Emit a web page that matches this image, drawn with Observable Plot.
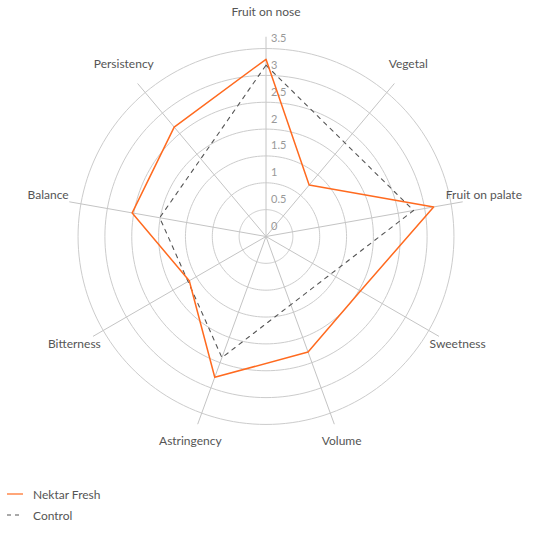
<!DOCTYPE html>
<html>
<head>
<meta charset="utf-8">
<script src="https://cdn.jsdelivr.net/npm/d3@7"></script>
<script src="https://cdn.jsdelivr.net/npm/@observablehq/plot@0.6"></script>
<style>
  html, body { margin: 0; padding: 0; background: #fff; }
  #wrap { position: relative; width: 551px; height: 541px; font-family: Lato, "Open Sans", sans-serif; }
  #chart { position: absolute; left: 0; top: 0; }
  .leg { position: absolute; left: 6px; display: flex; align-items: center; font-size: 12px; color: #555; }
  .leg svg { margin-right: 10px; }
</style>
</head>
<body>
<div id="wrap">
  <div id="chart"></div>
  <div id="legend"></div>
</div>
<script>
// ---- data ----
const attributes = ["Fruit on nose", "Vegetal", "Fruit on palate", "Sweetness", "Volume", "Astringency", "Bitterness", "Balance", "Persistency"];
const nektarFresh = [3.3, 1.25, 3.17, 2.03, 2.29, 2.79, 1.65, 2.53, 2.66];
const control = [3.19, null, 2.79, null, null, 2.4, null, 2.01, null];
const tickValues = [0, 0.5, 1, 1.5, 2, 2.5, 3, 3.5];
const tickLabels = ["0", "0.5", "1", "1.5", "2", "2.5", "3", "3.5"];
const seriesNames = ["Nektar Fresh", "Control"];
const seriesColors = ["#ff6a1f", "#555555"];

// ---- geometry helpers ----
const W = 551, H = 475;
const cx = 265.5, cy = 236, k = 53.7; // px per unit
const maxR = 3.5, spokeR = 3.72, labelR = 4.12;
const n = attributes.length;
const ang = i => (i * 2 * Math.PI) / n;
const px = (r, a) => r * Math.sin(a);
const py = (r, a) => r * Math.cos(a);

const axes = attributes.map((name, i) => ({name, a: ang(i)}));

const rings = [];
for (const v of tickValues.filter(v => v > 0)) {
  for (let d = 0; d < 360; d += 2) {
    const a = d * Math.PI / 180;
    rings.push({v, x: px(v, a), y: py(v, a)});
  }
}

const ticks = tickValues.map((v, i) => ({v, label: tickLabels[i]}));

const toPoints = (vals) => vals.map((v, i) => ({name: attributes[i], v, a: ang(i)}))
  .filter(d => d.v != null)
  .map(d => ({...d, x: px(d.v, d.a), y: py(d.v, d.a)}));

const nekPts = toPoints(nektarFresh);
const ctlPts = toPoints(control);

const chart = Plot.plot({
  width: W,
  height: H,
  margin: 0,
  x: {domain: [-cx / k, (W - cx) / k], range: [0, W], axis: null},
  y: {domain: [(cy - H) / k, cy / k], range: [H, 0], axis: null},
  style: {fontFamily: "Lato, 'Open Sans', sans-serif", background: "transparent"},
  marks: [
    Plot.line(rings, {x: "x", y: "y", z: "v", curve: "linear-closed", stroke: "#cccccc", strokeWidth: 1}),
    Plot.link(axes, {x1: 0, y1: 0, x2: d => px(spokeR, d.a), y2: d => py(spokeR, d.a), stroke: "#c4c4c4", strokeWidth: 1}),
    Plot.text(ticks, {x: 0, y: "v", text: "label", textAnchor: "start", dx: 5, dy: -10, fill: "#999", fontSize: 11}),
    Plot.text(axes, {x: d => px(labelR, d.a), y: d => py(labelR, d.a), text: "name", textAnchor: "middle", dy: -3, fill: "#555", fontSize: 12}),
    Plot.line(ctlPts, {x: "x", y: "y", curve: "linear-closed", stroke: seriesColors[1], strokeWidth: 1.1, strokeDasharray: "4,5"}),
    Plot.line(nekPts, {x: "x", y: "y", curve: "linear-closed", stroke: seriesColors[0], strokeWidth: 1.5})
  ]
});
document.getElementById("chart").appendChild(chart);

// ---- legend ----
const legend = document.getElementById("legend");
const legTops = [486, 507];
seriesNames.forEach((name, i) => {
  const row = document.createElement("div");
  row.className = "leg";
  row.style.top = legTops[i] + "px";
  const dash = i === 1 ? 'stroke-dasharray="4,4"' : '';
  const op = i === 0 ? 'stroke-opacity="0.6" stroke-width="2"' : 'stroke-width="1.2"';
  row.innerHTML = `<svg width="17" height="16"><line x1="1" y1="8" x2="17" y2="8" stroke="${seriesColors[i]}" ${op} ${dash}/></svg><span>${name}</span>`;
  legend.appendChild(row);
});
</script>
</body>
</html>
